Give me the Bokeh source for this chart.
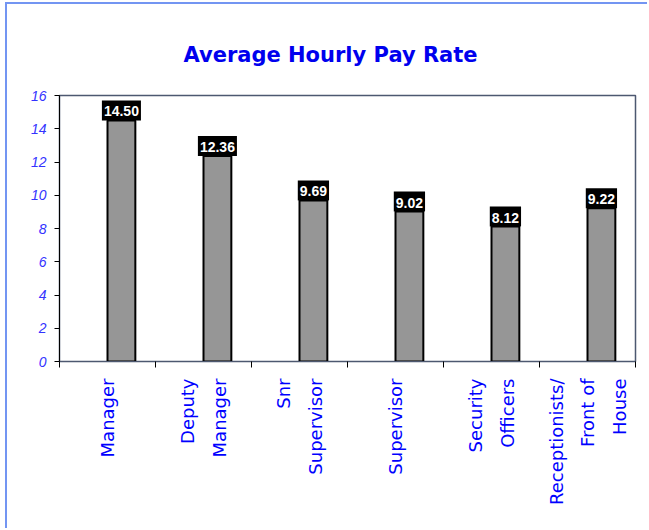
import math
import numpy as np
from bokeh.plotting import figure
from bokeh.models import Range1d, FixedTicker
from bokeh.embed import file_html
from bokeh.resources import INLINE
from bokeh.core.properties import value

# ---- data ----
title_text = "Average Hourly Pay Rate"
categories = ["Manager", "Deputy\nManager", "Snr\nSupervisor", "Supervisor",
              "Security\nOfficers", "Receptionists/\nFront of\nHouse"]
pay_rates = [14.50, 12.36, 9.69, 9.02, 8.12, 9.22]
y_ticks = [0, 2, 4, 6, 8, 10, 12, 14, 16]

idx = np.arange(len(categories))
centers = idx + 0.5          # category centres (label positions)
bar_x = idx + 0.645          # bars sit in the right half of each category
value_labels = [f"{v:.2f}" for v in pay_rates]

p = figure(width=642, height=526, output_backend="svg", toolbar_location=None,
           x_range=Range1d(0, len(categories)), y_range=Range1d(0, 16),
           min_border_left=52, min_border_right=14, min_border_top=91,
           min_border_bottom=169)
p.styles = {"margin-left": "5px", "margin-top": "2px",
            "border-left": "2px solid #7395f2", "border-top": "2px solid #7395f2"}

p.title.text = title_text
p.title.align = "left"
p.title.offset = 124
p.title.vertical_align = "top"
p.title.standoff = 54
p.title.text_font = "DejaVu Sans"
p.title.text_font_style = "bold"
p.title.text_font_size = "21px"
p.title.text_color = "#0000ee"

p.xgrid.visible = False
p.ygrid.visible = False
p.outline_line_color = "#4d5870"
p.outline_line_width = 1.5
p.background_fill_color = "white"
p.border_fill_color = "white"

# y axis
p.yaxis.ticker = FixedTicker(ticks=y_ticks)
p.yaxis.major_tick_out = 5
p.yaxis.major_tick_in = 0
p.yaxis.minor_tick_out = 0
p.yaxis.axis_line_color = "black"
p.yaxis.major_tick_line_color = "black"
p.yaxis.major_label_text_font = "Liberation Sans"
p.yaxis.major_label_text_font_style = "italic"
p.yaxis.major_label_text_font_size = "14px"
p.yaxis.major_label_text_color = "#3333ff"
p.yaxis.major_label_standoff = 8

# x axis
p.xaxis.ticker = FixedTicker(ticks=list(centers), minor_ticks=list(range(len(categories) + 1)))
p.xaxis.major_label_overrides = {float(c): lab for c, lab in zip(centers, categories)}
p.xaxis.major_tick_out = 0
p.xaxis.major_tick_in = 0
p.xaxis.minor_tick_out = 6
p.xaxis.minor_tick_in = 0
p.xaxis.minor_tick_line_color = "black"
p.xaxis.axis_line_color = "#4d5870"
p.xaxis.major_label_orientation = math.pi / 2
p.xaxis.major_label_text_font = "DejaVu Sans"
p.xaxis.major_label_text_font_size = "18px"
p.xaxis.major_label_text_color = "#0000ff"
p.xaxis.major_label_text_line_height = 1.5
p.xaxis.major_label_standoff = 11

# bars
p.vbar(x=bar_x, top=pay_rates, bottom=0, width=0.29,
       fill_color="#969696", line_color="black", line_width=2)

# value labels
p.text(x=bar_x, y=pay_rates, text=value_labels,
       text_color="white", text_font=value("Liberation Sans"),
       text_font_style="bold", text_font_size="14px",
       text_align="center", text_baseline="bottom",
       background_fill_color="black",
       padding={"left": 2, "right": 2, "top": 6, "bottom": 4})

open("out.html", "w").write(file_html(p, INLINE))
